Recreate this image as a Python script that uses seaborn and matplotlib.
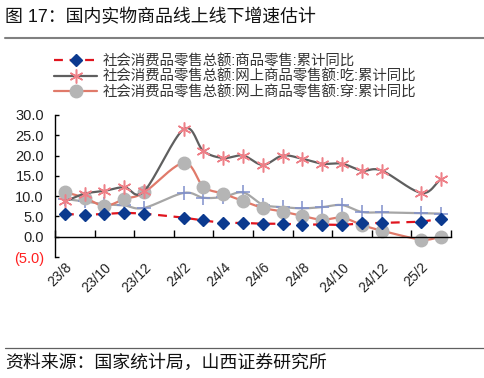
import numpy as np
import pandas as pd
import matplotlib
matplotlib.use("Agg")
import matplotlib.pyplot as plt
from matplotlib.lines import Line2D
import seaborn as sns

sns.set_theme(style="white")
plt.rcParams["font.family"] = ["Liberation Sans", "Noto Sans CJK SC", "DejaVu Sans"]
plt.rcParams["axes.unicode_minus"] = False

# month categories (Jan values are not published separately)
months = ["23/8", "23/9", "23/10", "23/11", "23/12", "24/1", "24/2", "24/3",
          "24/4", "24/5", "24/6", "24/7", "24/8", "24/9", "24/10", "24/11",
          "24/12", "25/1", "25/2", "25/3"]
goods = [5.6, 5.4, 5.6, 5.9, 5.7, None, 4.7, 4.0, 3.4, 3.4, 3.2, 3.2, 3.0,
         3.0, 2.9, 3.3, 3.4, None, 3.7, 4.4]
food = [8.7, 10.6, 11.3, 12.2, 11.2, None, 26.5, 21.1, 19.4, 20.0, 17.7,
        20.0, 19.2, 18.0, 18.0, 16.3, 16.3, None, 10.8, 14.2]
clothes = [11.0, 9.6, 7.6, 9.3, 10.9, None, 18.2, 12.3, 10.6, 8.8, 7.1, 6.2,
           5.1, 4.2, 4.7, 2.9, 1.5, None, -0.7, 0.0]
other = [9.3, 8.7, 8.0, 7.7, 7.1, None, 10.8, 9.6, 9.8, 10.9, 7.9, 7.3, 7.0,
         7.3, 7.8, 6.1, 6.0, None, 5.8, 5.7]
tick_labels = months[::2]
yticks = [30, 25, 20, 15, 10, 5, 0, -5]

labels = ["社会消费品零售总额:商品零售:累计同比",
          "社会消费品零售总额:网上商品零售额:吃:累计同比",
          "社会消费品零售总额:网上商品零售额:穿:累计同比"]

df = pd.DataFrame({"month": months, "goods": goods, "food": food,
                   "clothes": clothes, "other": other})
df["pos"] = np.arange(len(months))
df = df.dropna().reset_index(drop=True)


def smooth(x, y, n=20):
    # Excel-like smoothed line (Catmull-Rom through the points)
    x = np.asarray(x, float)
    y = np.asarray(y, float)
    px = np.concatenate([[2 * x[0] - x[1]], x, [2 * x[-1] - x[-2]]])
    py = np.concatenate([[2 * y[0] - y[1]], y, [2 * y[-1] - y[-2]]])
    xs, ys = [], []
    for i in range(1, len(px) - 2):
        t = np.linspace(0, 1, n, endpoint=False)
        for arr, out in ((px, xs), (py, ys)):
            p0, p1, p2, p3 = arr[i - 1], arr[i], arr[i + 1], arr[i + 2]
            out.extend(0.5 * ((2 * p1) + (-p0 + p2) * t
                              + (2 * p0 - 5 * p1 + 4 * p2 - p3) * t ** 2
                              + (-p0 + 3 * p1 - 3 * p2 + p3) * t ** 3))
    xs.append(x[-1])
    ys.append(y[-1])
    return np.array(xs), np.array(ys)


fig = plt.figure(figsize=(4.85, 3.78), dpi=100)
ax = fig.add_axes([55 / 485, 1 - 257 / 378, 396 / 485, 142 / 378])

c_goods_line, c_goods_mk = "#e0141e", "#0b3a8f"
c_food_line, c_food_mk = "#5f5f5f", "#ee8088"
c_cloth_line, c_cloth_mk = "#e07a6a", "#b5b5b5"
c_other_line, c_other_mk = "#a6a6a6", "#8090cc"
star = (6, 2, 0)

# other (unlabeled) series
sx, sy = smooth(df["pos"], df["other"])
sns.lineplot(x=sx, y=sy, ax=ax, color=c_other_line, lw=1.6, sort=False)
ax.plot(df["pos"], df["other"], ls="none", marker="+", ms=10, mew=1.1,
        color=c_other_mk)

# clothes
sx, sy = smooth(df["pos"], df["clothes"])
sns.lineplot(x=sx, y=sy, ax=ax, color=c_cloth_line, lw=1.6, sort=False)
ax.plot(df["pos"], df["clothes"], ls="none", marker="o", ms=9,
        color=c_cloth_mk, mec=c_cloth_mk)

# food
sx, sy = smooth(df["pos"], df["food"])
sns.lineplot(x=sx, y=sy, ax=ax, color=c_food_line, lw=1.6, sort=False)
ax.plot(df["pos"], df["food"], ls="none", marker=star, ms=10, mew=1.1,
        color=c_food_mk)

# goods retail
sns.lineplot(x=df["pos"], y=df["goods"], ax=ax, color=c_goods_line, lw=1.6,
             dashes=False, sort=False, linestyle=(0, (4, 3)))
ax.plot(df["pos"], df["goods"], ls="none", marker="D", ms=6.3,
        color=c_goods_mk, mec=c_goods_mk)

ax.set_xlim(-0.5, len(months) - 0.5)
ax.set_ylim(-5, 30)
ax.set_xlabel("")
ax.set_ylabel("")

for s in ["top", "right"]:
    ax.spines[s].set_visible(False)
ax.spines["left"].set_color("black")
ax.spines["left"].set_linewidth(1.0)
ax.spines["bottom"].set_position(("data", 0))
ax.spines["bottom"].set_color("black")
ax.spines["bottom"].set_linewidth(1.0)

ax.set_yticks(yticks)
ax.set_yticklabels([f"{v:.1f}" if v >= 0 else f"({-v:.1f})" for v in yticks])
ax.tick_params(axis="y", direction="in", length=3, width=1, color="black",
               labelsize=10.5, pad=8, labelcolor="#222222", left=True)
ax.get_yticklabels()[-1].set_color("#ff2020")

ax.set_xticks(np.arange(0, len(months), 2))
ax.set_xticklabels(tick_labels, rotation=45, ha="right",
                   rotation_mode="anchor")
ax.set_xticks(np.arange(-0.5, len(months), 2), minor=True)
ax.tick_params(axis="x", which="major", length=0, pad=17, labelsize=10,
               labelcolor="#222222", bottom=True)
ax.tick_params(axis="x", which="minor", direction="in", length=5, width=1,
               color="black", bottom=True)
ax.grid(False)

handles = [
    Line2D([], [], color=c_goods_line, lw=1.6, ls=(0, (4, 3)), marker="D",
           ms=6.3, mfc=c_goods_mk, mec=c_goods_mk),
    Line2D([], [], color=c_food_line, lw=1.6, marker=star, ms=10, mew=1.1,
           mec=c_food_mk),
    Line2D([], [], color=c_cloth_line, lw=1.6, marker="o", ms=9,
           mfc=c_cloth_mk, mec=c_cloth_mk),
]
fig.legend(handles, labels, loc="upper left",
           bbox_to_anchor=(54 / 485, 1 - 54 / 378), frameon=False,
           fontsize=10.4, handlelength=3.0, handletextpad=0.4,
           labelspacing=0.1, borderpad=0, borderaxespad=0,
           labelcolor="#333333")

fig.text(5 / 485, 1 - 18 / 378, "图 17：国内实物商品线上线下增速估计",
         fontsize=12.9, va="center", ha="left", color="#111111")
fig.add_artist(Line2D([5 / 485, 1], [1 - 38 / 378] * 2, color="#808080",
                      lw=1.5))
fig.add_artist(Line2D([5 / 485, 1], [1 - 348 / 378] * 2, color="#606060",
                      lw=0.9))
fig.text(5 / 485, 1 - 363 / 378, "资料来源：国家统计局，山西证券研究所",
         fontsize=12.9, va="center", ha="left", color="#111111")

fig.savefig("out.png", dpi=100)
